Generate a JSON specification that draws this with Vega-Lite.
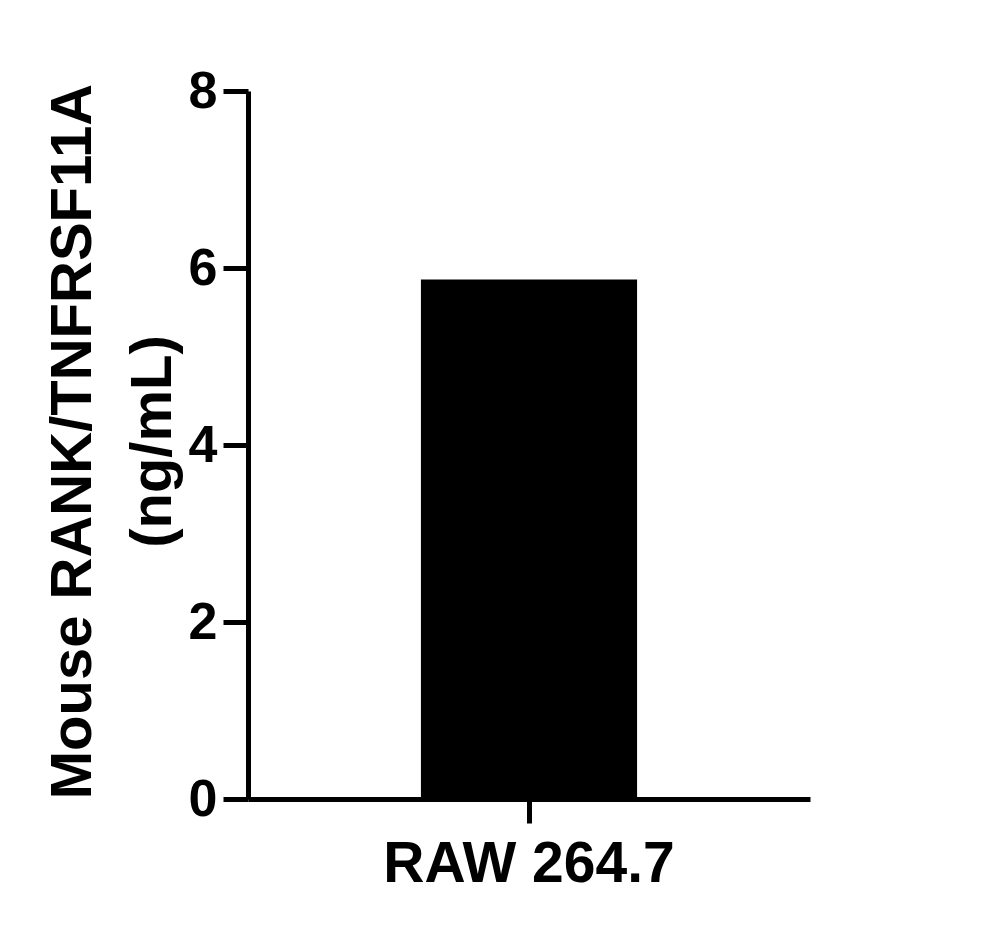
{
  "$schema": "https://vega.github.io/schema/vega-lite/v6.json",
  "autosize": "none",
  "padding": {"left": 248, "top": 91, "right": 181, "bottom": 135},
  "width": 562,
  "height": 708,
  "background": "white",
  "config": {
    "view": {"stroke": null},
    "font": "Liberation Sans"
  },
  "data": {"values": [{"cell": "RAW 264.7", "value": 5.87}]},
  "mark": {"type": "bar", "color": "black"},
  "encoding": {
    "x": {
      "field": "cell",
      "type": "nominal",
      "scale": {"paddingInner": 0, "paddingOuter": 0.8},
      "axis": {
        "title": null,
        "labelAngle": 0,
        "labelLimit": 0,
        "labelFont": "Liberation Sans",
        "labelFontSize": 57,
        "labelFontWeight": "bold",
        "labelColor": "black",
        "labelPadding": 13,
        "domainColor": "black",
        "domainWidth": 5,
        "tickColor": "black",
        "tickWidth": 5,
        "tickSize": 24
      }
    },
    "y": {
      "field": "value",
      "type": "quantitative",
      "scale": {"domain": [0, 8], "nice": false},
      "axis": {
        "title": ["Mouse RANK/TNFRSF11A", "(ng/mL)"],
        "titleFont": "Liberation Sans",
        "titleFontSize": 58,
        "titleFontWeight": "bold",
        "titleColor": "black",
        "titleLineHeight": 80,
        "titlePadding": 6,
        "titleY": 350,
        "values": [0, 2, 4, 6, 8],
        "grid": false,
        "labelFont": "Liberation Sans",
        "labelFontSize": 52,
        "labelFontWeight": "bold",
        "labelColor": "black",
        "labelPadding": 6,
        "domainColor": "black",
        "domainWidth": 5,
        "tickColor": "black",
        "tickWidth": 5,
        "tickSize": 25
      }
    }
  }
}
